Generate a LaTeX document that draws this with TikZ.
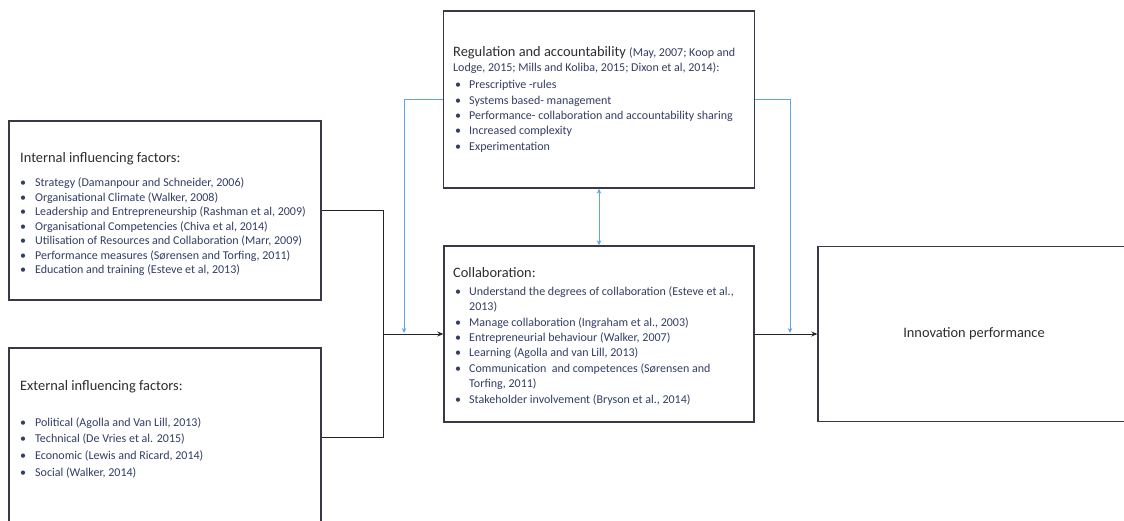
\documentclass[tikz,border=0pt]{standalone}
\usepackage{fontspec}
\setmainfont{Carlito}
\usetikzlibrary{arrows.meta}
\definecolor{boxc}{RGB}{55,58,70}
\definecolor{itemc}{RGB}{50,62,100}
\definecolor{headc}{RGB}{45,45,50}
\definecolor{bluec}{RGB}{95,165,225}
\definecolor{linec}{RGB}{35,35,40}
\begin{document}
\begin{tikzpicture}[x=1pt,y=-1pt,
  box/.style={draw=boxc,line width=1.4pt,fill=white,inner sep=0pt},
  head/.style={anchor=base west,inner sep=0pt,font=\fontsize{14.4}{17}\selectfont,text=headc},
  lst/.style={anchor=base west,inner sep=0pt,font=\fontsize{12}{#1}\selectfont,text=itemc},
  lst/.default=14.5,
  blk/.style={draw=linec,line width=0.9pt},
  blu/.style={draw=bluec,line width=0.8pt},
  tipb/.style={-{Stealth[length=6pt,width=5pt]}},
  tipl/.style={-{Stealth[length=5pt,width=4.5pt]},shorten >=1pt}]
\path[use as bounding box] (0,0) rectangle (1124,521);
\begin{scope}
\clip (0,0) rectangle (1124,521);
\node[box,minimum width=312pt,minimum height=179pt] (int) at (165,210.5) {};
\node[box,minimum width=312pt,minimum height=178pt] (ext) at (165,437) {};
\node[box,minimum width=311pt,minimum height=177pt] (reg) at (599,99.5) {};
\node[box,minimum width=310pt,minimum height=176pt] (collab) at (599,334) {};
\node[box,minimum width=312pt,minimum height=175pt,font=\fontsize{14.4}{17}\selectfont,text=headc] (innov) at (974,334) {Innovation performance};
\end{scope}

% internal
\node[head] (intH) at (20,163) {Internal influencing factors:};
\node[lst] (intL) at (20,187) {\begin{tabular}[t]{@{}p{15pt}@{}l@{}}
\textbullet & Strategy (Damanpour and Schneider, 2006)\\
\textbullet & Organisational Climate (Walker, 2008)\\
\textbullet & Leadership and Entrepreneurship (Rashman et al, 2009)\\
\textbullet & Organisational Competencies (Chiva et al, 2014)\\
\textbullet & Utilisation of Resources and Collaboration (Marr, 2009)\\
\textbullet & Performance measures (Sørensen and Torfing, 2011)\\
\textbullet & Education and training (Esteve et al, 2013)
\end{tabular}};

% external
\node[head] (extH) at (20,390) {External influencing factors:};
\node[lst=16.7] (extL) at (20,426) {\begin{tabular}[t]{@{}p{15pt}@{}l@{}}
\textbullet & Political (Agolla and Van Lill, 2013)\\
\textbullet & Technical (De Vries et al. 2015)\\
\textbullet & Economic (Lewis and Ricard, 2014)\\
\textbullet & Social (Walker, 2014)
\end{tabular}};

% regulation
\node[head] (regH) at (453,57) {Regulation and accountability {\fontsize{12}{14}\selectfont\color{itemc}(May, 2007; Koop and}};
\node[lst] (regC) at (453,72) {Lodge, 2015; Mills and Koliba, 2015; Dixon et al, 2014):};
\node[lst=15.3] (regL) at (455,89) {\begin{tabular}[t]{@{}p{14pt}@{}l@{}}
\textbullet & Prescriptive -rules\\
\textbullet & Systems based- management\\
\textbullet & Performance- collaboration and accountability sharing\\
\textbullet & Increased complexity\\
\textbullet & Experimentation
\end{tabular}};

% collaboration
\node[head] (colH) at (453,277) {Collaboration:};
\node[lst=15.5] (colL) at (455,295) {\begin{tabular}[t]{@{}p{14pt}@{}l@{}}
\textbullet & Understand the degrees of collaboration (Esteve et al.,\\
 & 2013)\\
\textbullet & Manage collaboration (Ingraham et al., 2003)\\
\textbullet & Entrepreneurial behaviour (Walker, 2007)\\
\textbullet & Learning (Agolla and van Lill, 2013)\\
\textbullet & Communication \ and competences (Sørensen and\\
 & Torfing, 2011)\\
\textbullet & Stakeholder involvement (Bryson et al., 2014)
\end{tabular}};

% connectors
\coordinate (jn) at (383,334);
\coordinate (bl) at (404,334);
\coordinate (br) at (790,334);
\draw[blk] (int.east) -| (jn);
\draw[blk] (ext.east) -| (jn);
\draw[blk,tipb] (jn) -- (collab.west);
\draw[blk,tipb] (collab.east) -- (innov.west);
\draw[blu,tipl] (reg.west) -| (bl);
\draw[blu,tipl] (reg.east) -| (br);
\draw[blu,{Stealth[length=5pt,width=4.5pt]}-{Stealth[length=5pt,width=4.5pt]}] (reg.south) -- (collab.north);
\end{tikzpicture}
\end{document}
